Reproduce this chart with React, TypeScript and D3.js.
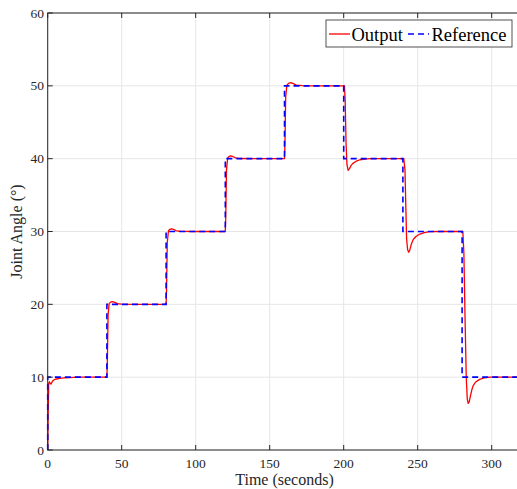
import React from "react";
import * as d3 from "d3";

const refTime = [0, 0, 40, 40, 80, 80, 120, 120, 160, 160, 200, 200, 240, 240, 280, 280, 320];
const refValue = [0, 10, 10, 20, 20, 30, 30, 40, 40, 50, 50, 40, 40, 30, 30, 10, 10];

const outTime = [
  0, 0.3, 0.7, 1.2, 1.8, 2.3, 2.8, 3.5, 4.5, 6, 8, 11, 15, 20, 30, 40,
  40.3, 40.8, 41.5, 42.5, 43.6, 45, 47, 50, 60, 80,
  80.3, 80.8, 81.6, 82.6, 83.6, 85, 87, 90, 100, 120,
  120.3, 120.8, 121.6, 122.6, 123.7, 125, 127, 130, 140, 160,
  160.3, 160.8, 161.6, 162.8, 164.3, 166, 168, 172, 180, 200,
  200.5, 201.0, 201.6, 202.2, 203.0, 203.8, 204.8, 206.2, 208.5, 211, 214, 218, 225, 240,
  240.6, 241.4, 241.9, 242.5, 243.2, 243.9, 244.6, 245.6, 247, 249, 251.5, 254.5, 258, 265, 280,
  280.5, 281.2, 282, 282.8, 283.5, 284.1, 284.8, 285.6, 286.5, 287.4, 289, 291.8, 295, 299, 320,
];
const outValue = [
  0, 5, 9.2, 9.35, 9.1, 9.05, 9.3, 9.5, 9.65, 9.75, 9.82, 9.9, 9.95, 10, 10, 10,
  12, 18.5, 20.1, 20.3, 20.37, 20.3, 20.1, 20.02, 20, 20,
  22, 28.5, 30.1, 30.3, 30.37, 30.3, 30.1, 30.02, 30, 30,
  32, 38.5, 40.1, 40.3, 40.37, 40.3, 40.1, 40.02, 40, 40,
  42, 48.5, 50.1, 50.35, 50.45, 50.3, 50.1, 50.02, 50, 50,
  50, 48, 42, 39.2, 38.4, 38.6, 39.0, 39.35, 39.65, 39.85, 39.95, 40, 40, 40,
  40, 38.5, 34, 29, 27.5, 27.15, 27.4, 28.2, 28.9, 29.35, 29.65, 29.85, 29.97, 30, 30,
  30, 27, 18, 10, 7, 6.4, 6.6, 7.4, 8.2, 8.8, 9.3, 9.7, 9.9, 10, 10,
];

const xTicks = [0, 50, 100, 150, 200, 250, 300];
const yTicks = [0, 10, 20, 30, 40, 50, 60];
const legendLabels = ["Output", "Reference"];

const W = 517;
const H = 489;
const left = 47.7;
const top = 13;
const bottom = 450;
const right = 521.3;
const FONT = "'Liberation Serif', 'Times New Roman', serif";
const AX = "#262626";

export default function App() {
  const x = d3.scaleLinear().domain([0, 320]).range([left, right]);
  const y = d3.scaleLinear().domain([0, 60]).range([bottom, top]);

  const refData = refTime.map((t, i) => [t, refValue[i]] as [number, number]);
  const outData = outTime.map((t, i) => [t, outValue[i]] as [number, number]);
  const line = d3
    .line<[number, number]>()
    .x((d) => x(d[0]))
    .y((d) => y(d[1]));

  const tl = 5;

  return (
    <svg
      width={W}
      height={H}
      style={{ position: "absolute", left: 0, top: 0, background: "#fff" }}
      fontFamily={FONT}
    >
      <rect x={0} y={0} width={W} height={H} fill="#fff" />
      {/* grid */}
      {xTicks.map((t) => (
        <line key={"gx" + t} x1={x(t)} x2={x(t)} y1={top} y2={bottom} stroke="#e6e6e6" strokeWidth={1} />
      ))}
      {yTicks.map((t) => (
        <line key={"gy" + t} x1={left} x2={right} y1={y(t)} y2={y(t)} stroke="#e6e6e6" strokeWidth={1} />
      ))}
      {/* data */}
      <path d={line(outData) || ""} fill="none" stroke="#ff0000" strokeWidth={1.3} strokeLinejoin="round" />
      <path d={line(refData) || ""} fill="none" stroke="#0000ff" strokeWidth={1.6} strokeDasharray="6,4" />
      {/* axes box */}
      <rect x={left} y={top} width={right - left} height={bottom - top} fill="none" stroke={AX} strokeWidth={1} />
      {xTicks.map((t) => (
        <g key={"tx" + t}>
          <line x1={x(t)} x2={x(t)} y1={bottom} y2={bottom - tl} stroke={AX} />
          <line x1={x(t)} x2={x(t)} y1={top} y2={top + tl} stroke={AX} />
          <text x={x(t)} y={468} textAnchor="middle" fontSize={13.5} fill={AX}>
            {t}
          </text>
        </g>
      ))}
      {yTicks.map((t) => (
        <g key={"ty" + t}>
          <line x1={left} x2={left + tl} y1={y(t)} y2={y(t)} stroke={AX} />
          <text x={44} y={y(t) + 4.5} textAnchor="end" fontSize={13.5} fill={AX}>
            {t}
          </text>
        </g>
      ))}
      <text x={(left + right) / 2} y={485} textAnchor="middle" fontSize={16} fill={AX}>
        Time (seconds)
      </text>
      <text
        transform={`translate(22,${(top + bottom) / 2}) rotate(-90)`}
        textAnchor="middle"
        fontSize={16}
        fill={AX}
      >
        Joint Angle (°)
      </text>
      {/* legend */}
      <g>
        <rect x={326} y={20} width={186} height={27} fill="#fff" stroke={AX} strokeWidth={0.8} />
        <line x1={329} x2={350} y1={34} y2={34} stroke="#ff0000" strokeWidth={1.3} />
        <text x={351.5} y={41} fontSize={18.5} fill="#000">
          {legendLabels[0]}
        </text>
        <line x1={408} x2={429} y1={34} y2={34} stroke="#0000ff" strokeWidth={1.6} strokeDasharray="6,4" />
        <text x={431.5} y={41} fontSize={18.5} fill="#000">
          {legendLabels[1]}
        </text>
      </g>
    </svg>
  );
}
